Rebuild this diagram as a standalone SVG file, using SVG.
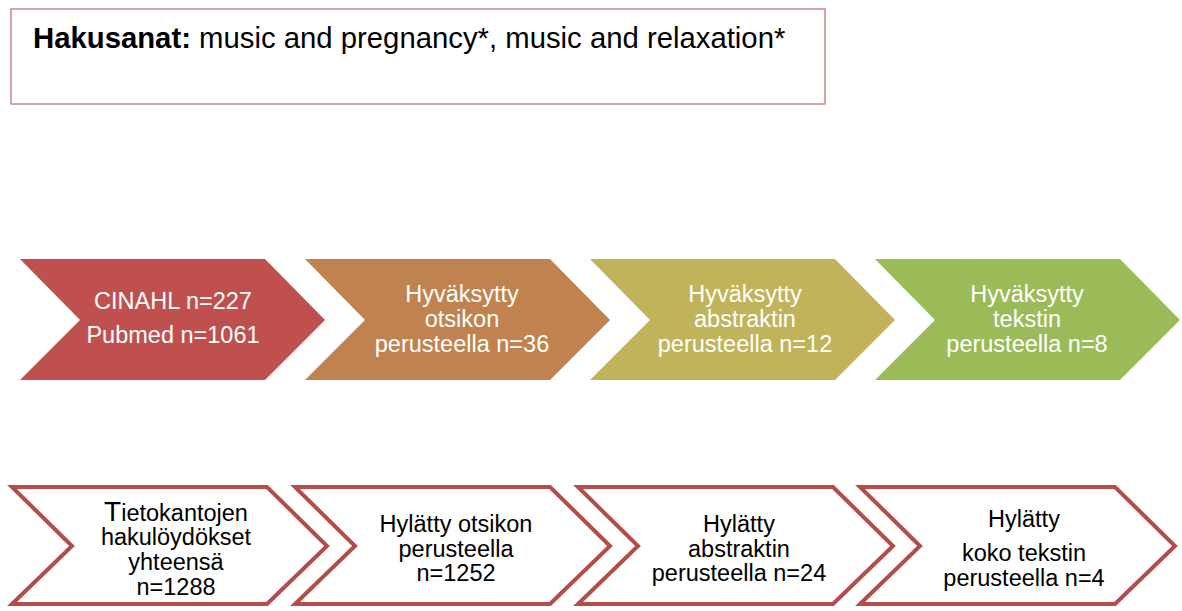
<svg xmlns="http://www.w3.org/2000/svg" width="1182" height="611" viewBox="0 0 1182 611">
<style>
text{font-family:"Liberation Sans",Arial,sans-serif;font-size:23.5px;text-anchor:middle}
.w{fill:#ffffff}
.k{fill:#000000}
.out{fill:#ffffff;stroke:#b44d49;stroke-width:4;stroke-linejoin:miter}
</style>
<rect width="1182" height="611" fill="#ffffff"/>
<g id="header">
<rect x="11" y="9" width="814" height="95" fill="#ffffff" stroke="#d08585" stroke-width="1.5"/>
<text x="33" y="48" style="text-anchor:start;font-size:29.3px"><tspan font-weight="bold">Hakusanat:</tspan> music and pregnancy*, music and relaxation*</text>
</g>
<g id="top1">
<polygon points="20,259 265,259 325,320 265,380 20,380 80,320" fill="#c0504d"/>
<text class="w" x="173" y="309">CINAHL n=227</text>
<text class="w" x="173" y="343">Pubmed n=1061</text>
</g>
<g id="top2">
<polygon points="305,259 550,259 610,320 550,380 305,380 365,320" fill="#c0834f"/>
<text class="w" x="462" y="302">Hyväksytty</text>
<text class="w" x="462" y="327">otsikon</text>
<text class="w" x="462" y="352">perusteella n=36</text>
</g>
<g id="top3">
<polygon points="590,259 835,259 895,320 835,380 590,380 650,320" fill="#c0b35a"/>
<text class="w" x="745" y="302">Hyväksytty</text>
<text class="w" x="745" y="327">abstraktin</text>
<text class="w" x="745" y="352">perusteella n=12</text>
</g>
<g id="top4">
<polygon points="875,259 1120,259 1180,320 1120,380 875,380 935,320" fill="#9bbb59"/>
<text class="w" x="1027" y="302">Hyväksytty</text>
<text class="w" x="1027" y="327">tekstin</text>
<text class="w" x="1027" y="352">perusteella n=8</text>
</g>
<g id="bottom1">
<polygon class="out" points="12,487 267,487 327,546 267,604 12,604 72,546"/>
<text class="k" x="176" y="521"><tspan font-size="28px">T</tspan>ietokantojen</text>
<text class="k" x="176" y="545">hakulöydökset</text>
<text class="k" x="176" y="570">yhteensä</text>
<text class="k" x="176" y="595">n=1288</text>
</g>
<g id="bottom2">
<polygon class="out" points="295,487 550,487 610,546 550,604 295,604 355,546"/>
<text class="k" x="456" y="532">Hylätty otsikon</text>
<text class="k" x="456" y="557">perusteella</text>
<text class="k" x="456" y="581">n=1252</text>
</g>
<g id="bottom3">
<polygon class="out" points="578,487 833,487 893,546 833,604 578,604 638,546"/>
<text class="k" x="739" y="532">Hylätty</text>
<text class="k" x="739" y="557">abstraktin</text>
<text class="k" x="739" y="581">perusteella n=24</text>
</g>
<g id="bottom4">
<polygon class="out" points="860,487 1115,487 1175,546 1115,604 860,604 920,546"/>
<text class="k" x="1024" y="527">Hylätty</text>
<text class="k" x="1024" y="561">koko tekstin</text>
<text class="k" x="1024" y="586">perusteella n=4</text>
</g>
<g id="connectors"></g>
</svg>
